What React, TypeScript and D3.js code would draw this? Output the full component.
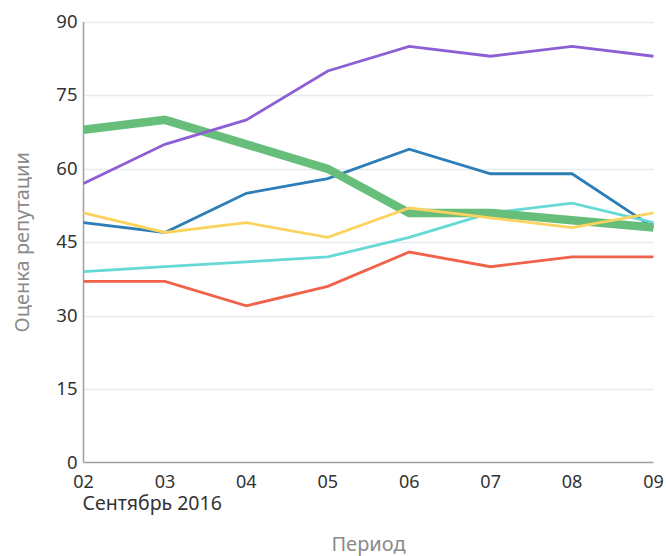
import React from "react";
import * as d3 from "d3";

const periods = ["02", "03", "04", "05", "06", "07", "08", "09"];
const yTicks = [0, 15, 30, 45, 60, 75, 90];

const redValues = [37, 37, 32, 36, 43, 40, 42, 42];
const blueValues = [49, 47, 55, 58, 64, 59, 59, 48];
const cyanValues = [39, 40, 41, 42, 46, 51, 53, 49];
const greenValues = [68, 70, 65, 60, 51, 51, 49.5, 48];
const yellowValues = [51, 47, 49, 46, 52, 50, 48, 51];
const purpleValues = [57, 65, 70, 80, 85, 83, 85, 83];

const seriesList = [
  { name: "red", values: redValues, color: "#f0624a", width: 2.8 },
  { name: "blue", values: blueValues, color: "#2c7db8", width: 2.8 },
  { name: "cyan", values: cyanValues, color: "#66d8d6", width: 2.8 },
  { name: "green", values: greenValues, color: "#66be7a", width: 8.5 },
  { name: "yellow", values: yellowValues, color: "#fcd35e", width: 2.8 },
  { name: "purple", values: purpleValues, color: "#8c5fd4", width: 2.8 },
];

const W = 666;
const H = 556;
const left = 83.5;
const right = 653.5;
const top = 22;
const bottom = 462.5;
const FONT = "'Noto Sans', sans-serif";

export default function App() {
  const x = d3.scalePoint<string>().domain(periods).range([left, right]);
  const y = d3.scaleLinear().domain([0, 90]).range([bottom, top]);
  const line = d3
    .line<number>()
    .x((_, i) => x(periods[i]) as number)
    .y((d) => y(d));

  return (
    <svg
      width={W}
      height={H}
      style={{ position: "absolute", left: 0, top: 0, background: "#fff" }}
    >
      {yTicks.map((t) => (
        <g key={t}>
          {t > 0 && (
            <line
              x1={left}
              x2={right}
              y1={Math.round(y(t)) + 0.5}
              y2={Math.round(y(t)) + 0.5}
              stroke="#e6ebf0"
              strokeWidth={1.5}
            />
          )}
          <text
            x={left - 6}
            y={y(t) + 6}
            textAnchor="end"
            fontFamily={FONT}
            fontSize={18.5}
            fill="#333"
          >
            {t}
          </text>
        </g>
      ))}
      <line x1={left} x2={left} y1={top} y2={bottom} stroke="#a0a0a0" strokeWidth={1.5} />
      <line x1={left} x2={right} y1={bottom} y2={bottom} stroke="#a0a0a0" strokeWidth={1.5} />
      {seriesList.map((s) => (
        <path
          key={s.name}
          d={line(s.values) || ""}
          fill="none"
          stroke={s.color}
          strokeWidth={s.width}
          strokeLinejoin="miter"
        />
      ))}
      {periods.map((p) => (
        <text
          key={p}
          x={x(p)}
          y={488}
          textAnchor="middle"
          fontFamily={FONT}
          fontSize={18}
          fill="#333"
        >
          {p}
        </text>
      ))}
      <text x={left - 1} y={510} fontFamily={FONT} fontSize={19.5} fill="#333">
        Сентябрь 2016
      </text>
      <text
        x={(left + right) / 2}
        y={551}
        textAnchor="middle"
        fontFamily={FONT}
        fontSize={20}
        fill="#8a8a8a"
      >
        Период
      </text>
      <text
        transform={`translate(29, ${(top + bottom) / 2}) rotate(-90)`}
        textAnchor="middle"
        fontFamily={FONT}
        fontSize={20}
        fill="#8a8a8a"
      >
        Оценка репутации
      </text>
    </svg>
  );
}
